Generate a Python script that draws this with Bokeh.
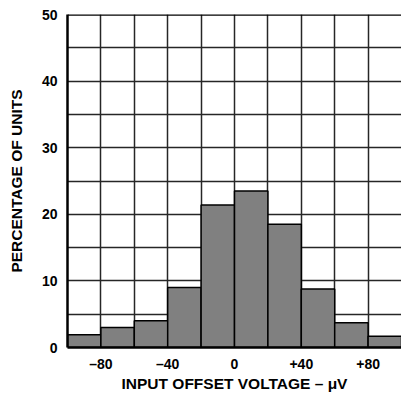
from bokeh.plotting import figure
from bokeh.models import FixedTicker, Span, Range1d
from bokeh.embed import file_html
from bokeh.resources import INLINE

# Histogram data: input offset voltage bins (uV) and percentage of units
bin_left = [-100, -80, -60, -40, -20, 0, 20, 40, 60, 80]
bin_right = [-80, -60, -40, -20, 0, 20, 40, 60, 80, 100]
percent = [1.9, 3.0, 4.0, 9.0, 21.4, 23.5, 18.5, 8.8, 3.7, 1.7]

x_ticks = [-80, -40, 0, 40, 80]
x_tick_labels = ["\u201380", "\u201340", "0", "+40", "+80"]
y_ticks = [0, 10, 20, 30, 40, 50]

FONT = "Liberation Sans"

p = figure(width=401, height=394, output_backend="svg", toolbar_location=None,
           x_range=Range1d(-100, 100), y_range=Range1d(0, 50),
           min_border_left=67, min_border_right=0, min_border_top=14, min_border_bottom=46)
p.background_fill_color = "white"
p.border_fill_color = "white"
p.outline_line_color = None

p.quad(left=bin_left, right=bin_right, bottom=0, top=percent,
       fill_color="#808080", line_color="black", line_width=1.5)

# grid
p.xgrid.ticker = FixedTicker(ticks=list(range(-100, 101, 20)))
p.ygrid.ticker = FixedTicker(ticks=list(range(0, 51, 5)))
for g in (p.xgrid, p.ygrid):
    g.grid_line_color = "#262626"
    g.grid_line_width = 1.5

p.add_layout(Span(location=50, dimension="width", line_color="black", line_width=2.5))

# axes
p.xaxis.ticker = FixedTicker(ticks=x_ticks)
p.xaxis.major_label_overrides = {t: l for t, l in zip(x_ticks, x_tick_labels)}
p.yaxis.ticker = FixedTicker(ticks=y_ticks)
for ax in (p.xaxis, p.yaxis):
    ax.axis_line_color = "black"
    ax.axis_line_width = 2.5
    ax.major_tick_line_color = None
    ax.minor_tick_line_color = None
    ax.major_tick_out = 0
    ax.major_tick_in = 0
    ax.minor_tick_out = 0
    ax.minor_tick_in = 0
    ax.major_label_text_font = FONT
    ax.major_label_text_font_style = "bold"
    ax.major_label_text_font_size = "14px"
    ax.major_label_text_color = "black"
    ax.axis_label_text_font = FONT
    ax.axis_label_text_font_style = "bold"
    ax.axis_label_text_color = "black"
    ax.axis_label_text_font_size = "15.5px"
p.xaxis.major_label_standoff = 8
p.yaxis.major_label_standoff = 10
p.xaxis.axis_label = "INPUT OFFSET VOLTAGE \u2013 \u03bcV"
p.yaxis.axis_label = "PERCENTAGE OF UNITS"
p.xaxis.axis_label_standoff = 0
p.yaxis.axis_label_standoff = 14

open("out.html", "w").write(file_html(p, INLINE))
